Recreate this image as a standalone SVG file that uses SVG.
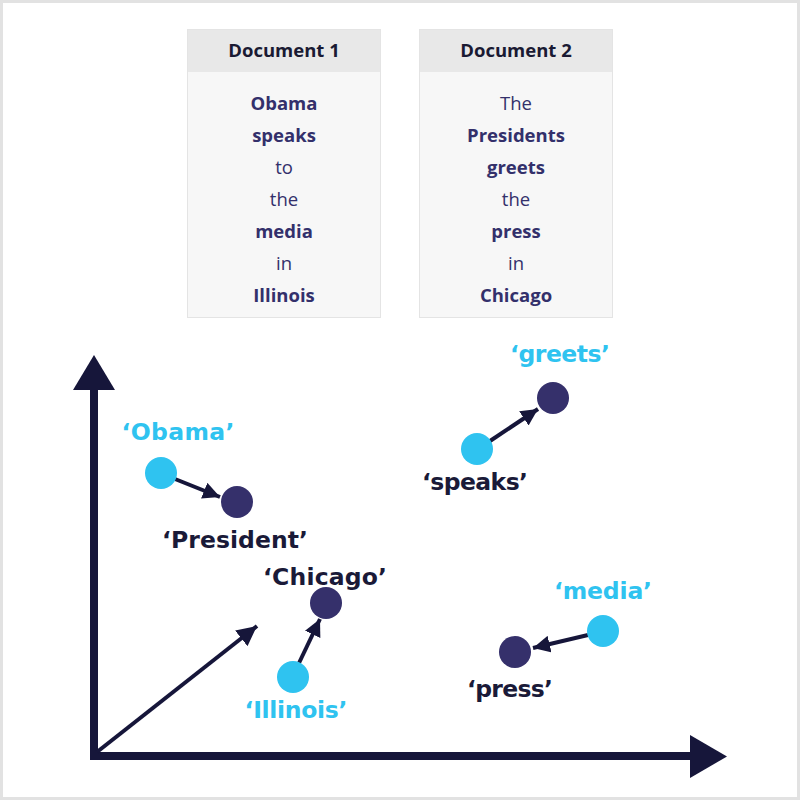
<svg xmlns="http://www.w3.org/2000/svg" width="800" height="800" viewBox="0 0 800 800">
<style>
.hdr{font-family:"Open Sans","Liberation Sans",sans-serif;font-weight:700;font-size:18.5px;fill:#1a1a33;text-anchor:middle}
.w{font-family:"Open Sans","Liberation Sans",sans-serif;font-size:18.5px;fill:#33306b;text-anchor:middle}
.b{font-weight:700}
.lbl{font-family:"DejaVu Sans","Open Sans",sans-serif;font-weight:700;font-size:23.5px;text-anchor:middle}
.cy{fill:#2fc3f0}
.dk{fill:#1a1a38}
.dot-c{fill:#2fc3f0}
.dot-d{fill:#35306b}
.conn{stroke:#16163a;stroke-width:4;fill:none}
</style>
<defs>
<marker id="ah" viewBox="0 0 10 10" refX="10" refY="5" markerWidth="17" markerHeight="17" markerUnits="userSpaceOnUse" orient="auto">
<path d="M0,0 L10,5 L0,10 z" fill="#16163a"/>
</marker>
<marker id="ahL" viewBox="0 0 10 10" refX="10" refY="5" markerWidth="20" markerHeight="20" markerUnits="userSpaceOnUse" orient="auto">
<path d="M0,0 L10,5 L0,10 z" fill="#16163a"/>
</marker>
</defs>
<rect x="1.5" y="1.5" width="797" height="797" fill="#ffffff" stroke="#e2e2e2" stroke-width="3"/>

<g id="doc1">
<rect x="187.5" y="29.5" width="193" height="288" fill="#f7f7f7" stroke="#e4e4e4"/>
<rect x="188" y="30" width="192" height="42" fill="#e8e8e8"/>
<text class="hdr" x="284" y="57">Document 1</text>
<text class="w b" x="284" y="110">Obama</text>
<text class="w b" x="284" y="142">speaks</text>
<text class="w" x="284" y="174">to</text>
<text class="w" x="284" y="206">the</text>
<text class="w b" x="284" y="238">media</text>
<text class="w" x="284" y="270">in</text>
<text class="w b" x="284" y="302">Illinois</text>
</g>

<g id="doc2">
<rect x="419.5" y="29.5" width="193" height="288" fill="#f7f7f7" stroke="#e4e4e4"/>
<rect x="420" y="30" width="192" height="42" fill="#e8e8e8"/>
<text class="hdr" x="516" y="57">Document 2</text>
<text class="w" x="516" y="110">The</text>
<text class="w b" x="516" y="142">Presidents</text>
<text class="w b" x="516" y="174">greets</text>
<text class="w" x="516" y="206">the</text>
<text class="w b" x="516" y="238">press</text>
<text class="w" x="516" y="270">in</text>
<text class="w b" x="516" y="302">Chicago</text>
</g>

<g id="axes">
<line x1="94" y1="760" x2="94" y2="388" stroke="#16163a" stroke-width="8"/>
<polygon points="73,390 94,355 115,390" fill="#16163a"/>
<line x1="90" y1="756" x2="692" y2="756" stroke="#16163a" stroke-width="8"/>
<polygon points="690,735 727,756.5 690,778" fill="#16163a"/>
</g>

<g id="connectors">
<line class="conn" x1="97" y1="752" x2="257" y2="626" marker-end="url(#ahL)"/>
<line class="conn" x1="175" y1="479" x2="220" y2="497" marker-end="url(#ah)"/>
<line class="conn" x1="299" y1="663" x2="320" y2="619" marker-end="url(#ah)"/>
<line class="conn" x1="490" y1="441" x2="538" y2="409" marker-end="url(#ah)"/>
<line class="conn" x1="588" y1="635" x2="533" y2="648" marker-end="url(#ah)"/>
</g>

<g id="obama">
<circle class="dot-c" cx="161" cy="473" r="16"/>
<text class="lbl cy" x="178" y="440" textLength="113">‘Obama’</text>
</g>
<g id="president">
<circle class="dot-d" cx="237" cy="502" r="16"/>
<text class="lbl dk" x="235" y="548" textLength="146">‘President’</text>
</g>
<g id="chicago">
<circle class="dot-d" cx="326" cy="603" r="16"/>
<text class="lbl dk" x="325" y="585" textLength="124">‘Chicago’</text>
</g>
<g id="illinois">
<circle class="dot-c" cx="293" cy="677" r="16"/>
<text class="lbl cy" x="296" y="718" textLength="103">‘Illinois’</text>
</g>
<g id="greets">
<circle class="dot-d" cx="553" cy="398" r="16"/>
<text class="lbl cy" x="560" y="362" textLength="100">‘greets’</text>
</g>
<g id="speaks">
<circle class="dot-c" cx="477" cy="449" r="16"/>
<text class="lbl dk" x="475" y="490" textLength="106">‘speaks’</text>
</g>
<g id="media">
<circle class="dot-c" cx="603" cy="631" r="16"/>
<text class="lbl cy" x="603" y="599" textLength="98">‘media’</text>
</g>
<g id="press">
<circle class="dot-d" cx="515" cy="652" r="16"/>
<text class="lbl dk" x="510" y="697" textLength="86">‘press’</text>
</g>
</svg>
